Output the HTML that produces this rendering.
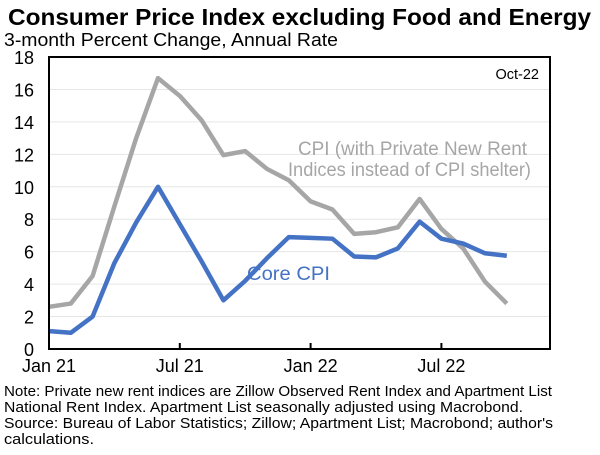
<!DOCTYPE html>
<html><head><meta charset="utf-8"><style>
body{margin:0;width:600px;height:450px;background:#fff;font-family:"Liberation Sans",sans-serif;overflow:hidden}
</style></head><body>
<svg width="600" height="450" xmlns="http://www.w3.org/2000/svg" font-family="Liberation Sans, sans-serif">
<text x="8" y="25" font-size="23" font-weight="bold" textLength="583" lengthAdjust="spacingAndGlyphs">Consumer Price Index excluding Food and Energy</text>
<text x="4" y="46" font-size="18" textLength="334" lengthAdjust="spacingAndGlyphs">3-month Percent Change, Annual Rate</text>
<g id="grid"></g><g id="yt"></g><g id="xt"></g><g id="lines"></g>
<rect x="49" y="57" width="501" height="292" fill="none" stroke="#000" stroke-width="2"/>
<text x="539" y="79" text-anchor="end" font-size="14.5">Oct-22</text>
<text x="298" y="155" font-size="19" fill="#a6a6a6" textLength="229" lengthAdjust="spacingAndGlyphs">CPI (with Private New Rent</text>
<text x="288" y="176" font-size="19" fill="#a6a6a6" textLength="243" lengthAdjust="spacingAndGlyphs">Indices instead of CPI shelter)</text>
<text x="247" y="280" font-size="19" fill="#4472c4" textLength="83" lengthAdjust="spacingAndGlyphs">Core CPI</text>
<g font-size="15">
<text x="4" y="396" textLength="548" lengthAdjust="spacingAndGlyphs">Note: Private new rent indices are Zillow Observed Rent Index and Apartment List</text>
<text x="4" y="412" textLength="519" lengthAdjust="spacingAndGlyphs">National Rent Index. Apartment List seasonally adjusted using Macrobond.</text>
<text x="4" y="428" textLength="549" lengthAdjust="spacingAndGlyphs">Source: Bureau of Labor Statistics; Zillow; Apartment List; Macrobond; author's</text>
<text x="4" y="444" textLength="90" lengthAdjust="spacingAndGlyphs">calculations.</text>
</g>
</svg>
<script>
const yTicks=[0,2,4,6,8,10,12,14,16,18];
const xTickLabels=["Jan 21","Jul 21","Jan 22","Jul 22"];
const xTickIdx=[0,6,12,18];
const coreCPI=[1.1,1.0,2.0,5.3,7.8,10.0,7.7,5.4,3.0,4.2,5.6,6.9,6.85,6.8,5.7,5.65,6.2,7.85,6.8,6.5,5.9,5.75];
const rentCPI=[2.6,2.8,4.5,8.8,13.0,16.7,15.6,14.1,11.95,12.2,11.1,10.4,9.1,8.6,7.1,7.2,7.5,9.25,7.4,6.2,4.15,2.8];
const NS="http://www.w3.org/2000/svg";
const X=i=>49+i*21.8, Y=v=>349-v*(292/18);
function mk(t,a,p){const e=document.createElementNS(NS,t);for(const k in a)e.setAttribute(k,a[k]);document.getElementById(p).appendChild(e);return e;}
yTicks.forEach(v=>{
 if(v>0&&v<18){const g=mk('line',{x1:49,x2:550,y1:Y(v),y2:Y(v),stroke:'#e6e6e6','stroke-width':1},'grid');
 
 }
 const t=mk('text',{x:34,y:Y(v)+7,'text-anchor':'end','font-size':18},'yt');t.textContent=v;
 
 
});
xTickLabels.forEach((l,k)=>{const x=X(xTickIdx[k]);
 const m=mk('line',{x1:x,x2:x,y1:343,y2:349,stroke:'#000','stroke-width':2},'xt');
 
 
 const t=mk('text',{x:x,y:372,'text-anchor':'middle','font-size':18},'xt');t.textContent=l;
 
 
});
function line(d,c,n){const p=mk('polyline',{points:d.map((v,i)=>X(i)+','+Y(v)).join(' '),fill:'none',stroke:c,'stroke-width':4.5,'stroke-linejoin':'round'},'lines');
 
 }
line(rentCPI,'#a6a6a6','cpi-rent-line');
line(coreCPI,'#4472c4','core-cpi-line');
</script>
</body></html>
